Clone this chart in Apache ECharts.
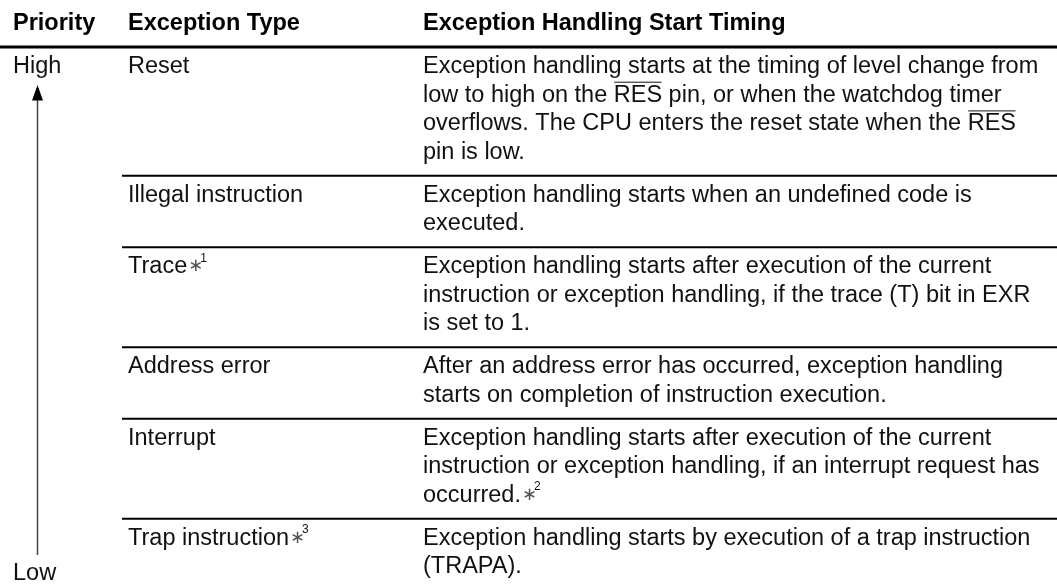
<!DOCTYPE html>
<html><head><meta charset="utf-8">
<script src="https://cdn.jsdelivr.net/npm/echarts@6/dist/echarts.min.js"></script>
<style>html,body{margin:0;padding:0;background:#fff}#c{width:1057px;height:586px}</style>
</head><body><div id="c"></div>
<script>
// ---- table content ----
const headers = ['Priority', 'Exception Type', 'Exception Handling Start Timing'];
const priorityEnds = ['High', 'Low'];
const exceptionTypes = ['Reset', 'Illegal instruction', 'Trace', 'Address error', 'Interrupt', 'Trap instruction'];
const typeNotes = ['', '', '1', '', '', '3'];
// "~X~" = overlined text, "^n" = note reference
const timingReset = [
  'Exception handling starts at the timing of level change from',
  'low to high on the ~RES~ pin, or when the watchdog timer',
  'overflows. The CPU enters the reset state when the ~RES~',
  'pin is low.'
];
const timingIllegal = [
  'Exception handling starts when an undefined code is',
  'executed.'
];
const timingTrace = [
  'Exception handling starts after execution of the current',
  'instruction or exception handling, if the trace (T) bit in EXR',
  'is set to 1.'
];
const timingAddress = [
  'After an address error has occurred, exception handling',
  'starts on completion of instruction execution.'
];
const timingInterrupt = [
  'Exception handling starts after execution of the current',
  'instruction or exception handling, if an interrupt request has',
  'occurred.^2'
];
const timingTrap = [
  'Exception handling starts by execution of a trap instruction',
  '(TRAPA).'
];
const timingLines = [timingReset, timingIllegal, timingTrace, timingAddress, timingInterrupt, timingTrap];

// ---- layout ----
const W = 1057;
const FS = 23.5;
const FONT = FS + 'px "Liberation Sans", Arial, sans-serif';
const BFONT = 'bold ' + FS + 'px "Liberation Sans", Arial, sans-serif';
const colX = [13, 128, 423];
const headerBase = 32;
const ruleY = 47;
const lineH = 28.7;
const rowPad = 14;
const firstOff = 27.5;
const sepX0 = 122;
const INK = '#111';

const mctx = document.createElement('canvas').getContext('2d');
function tw(t, f) { mctx.font = f; return mctx.measureText(t).width; }

const g = [];
function txt(t, x, base, font, fill) {
  g.push({ type: 'text', silent: true, style: { text: t, x: x, y: base - 0.3465 * FS, font: font || FONT, fill: fill || INK, align: 'left', verticalAlign: 'middle' } });
}
function note(n, x, base) {
  g.push({ type: 'text', silent: true, style: { text: '\u2217', x: x + 1, y: base - 8, font: '18px "DejaVu Sans", sans-serif', fill: '#555', align: 'left', verticalAlign: 'middle' } });
  g.push({ type: 'text', silent: true, style: { text: n, x: x + 13, y: base - 16.5, font: '12px "Liberation Sans", sans-serif', fill: INK, align: 'left', verticalAlign: 'middle' } });
}
function richLine(line, x, base) {
  const parts = line.split(/(~[^~]+~|\^\d)/).filter(s => s.length);
  let cx = x;
  parts.forEach(p => {
    if (p[0] === '^') { note(p.slice(1), cx, base); cx += 20; return; }
    let over = false;
    if (p[0] === '~') { p = p.slice(1, -1); over = true; }
    txt(p, cx, base);
    const w = tw(p, FONT);
    if (over) g.push({ type: 'line', silent: true, shape: { x1: cx + 0.5, y1: base - 21, x2: cx + w - 0.5, y2: base - 21 }, style: { stroke: INK, lineWidth: 1 } });
    cx += w;
  });
}

// header
headers.forEach((h, i) => txt(h, colX[i], headerBase, BFONT, '#000'));
g.push({ type: 'line', silent: true, shape: { x1: 0, y1: ruleY, x2: W, y2: ruleY }, style: { stroke: '#000', lineWidth: 3 } });

// rows
let rowTop = ruleY;
let lastBase = 0;
exceptionTypes.forEach((t, i) => {
  const b0 = rowTop + firstOff;
  txt(t, colX[1], b0);
  if (typeNotes[i]) note(typeNotes[i], colX[1] + tw(t, FONT), b0);
  timingLines[i].forEach((ln, k) => { richLine(ln, colX[2], b0 + k * lineH); lastBase = b0 + k * lineH; });
  const bottom = rowTop + timingLines[i].length * lineH + rowPad;
  if (i < exceptionTypes.length - 1) {
    g.push({ type: 'line', silent: true, shape: { x1: sepX0, y1: bottom, x2: W, y2: bottom }, style: { stroke: '#000', lineWidth: 2 } });
  }
  if (i === 0) txt(priorityEnds[0], colX[0], b0);
  rowTop = bottom;
});
txt(priorityEnds[1], colX[0], lastBase + 7);

// priority arrow
const ax = 37.5;
g.push({ type: 'line', silent: true, shape: { x1: ax, y1: 99, x2: ax, y2: 555 }, style: { stroke: '#444', lineWidth: 1.5 } });
g.push({ type: 'polygon', silent: true, shape: { points: [[ax, 85], [ax - 5.5, 100.5], [ax + 5.5, 100.5]] }, style: { fill: '#000' } });

const chart = echarts.init(document.getElementById('c'), null, { renderer: 'canvas' });
chart.setOption({ backgroundColor: '#fff', animation: false, graphic: { elements: g } });
</script>
</body></html>
